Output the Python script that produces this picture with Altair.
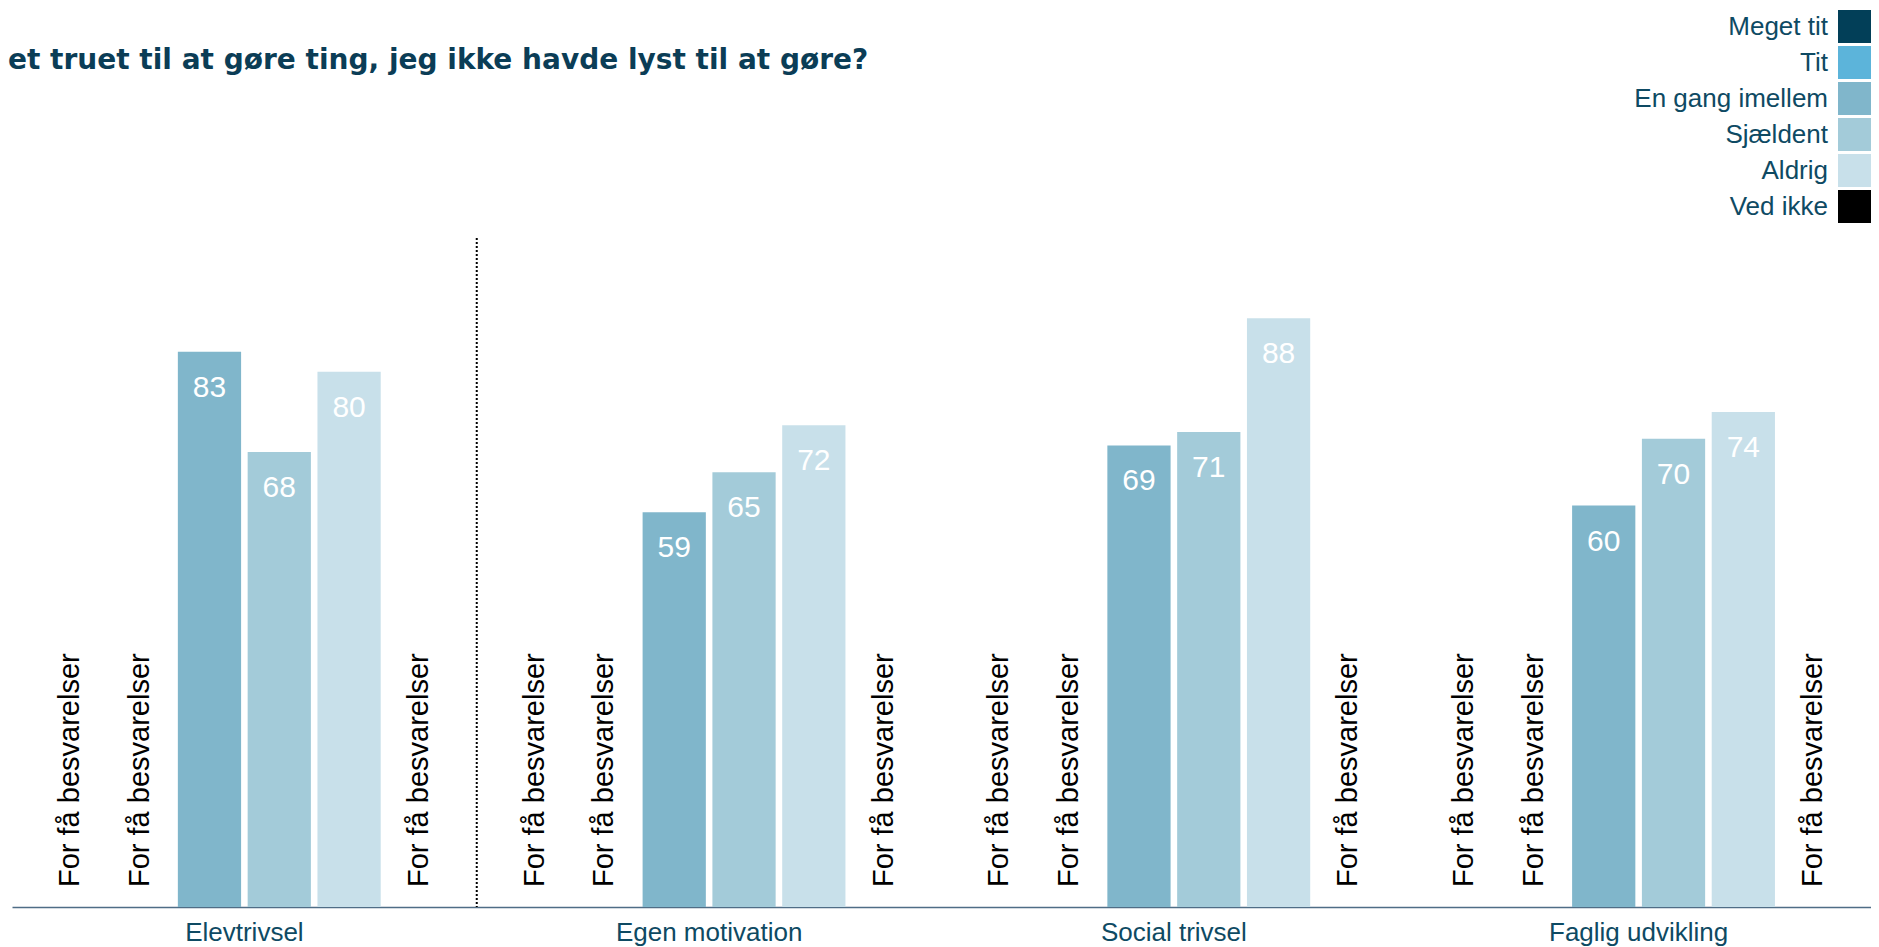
import altair as alt
import pandas as pd

# ---- data ----
groups = ["Elevtrivsel", "Egen motivation", "Social trivsel", "Faglig udvikling"]
categories = ["Meget tit", "Tit", "En gang imellem", "Sjældent", "Aldrig", "Ved ikke"]
colors = ["#023f58", "#5cb4da", "#80b6cb", "#a3cbd9", "#c8e0ea", "#000000"]

values_elevtrivsel = [None, None, 83, 68, 80, None]
values_egen_motivation = [None, None, 59, 65, 72, None]
values_social_trivsel = [None, None, 69, 71, 88, None]
values_faglig_udvikling = [None, None, 60, 70, 74, None]

separators = ["Egen motivation"]

too_few_text = "For få besvarelser"
title_text = "et truet til at gøre ting, jeg ikke havde lyst til at gøre?"

series = [values_elevtrivsel, values_egen_motivation, values_social_trivsel, values_faglig_udvikling]
rows = []
for g, vals in zip(groups, series):
    for c, v in zip(categories, vals):
        rows.append({"group": g, "cat": c, "value": v, "note": too_few_text if v is None else ""})
df = pd.DataFrame(rows)
sep_df = pd.DataFrame({"group": separators})

TEXT = "#0e4a63"
FONT = "Liberation Sans"

x_enc = alt.X(
    "group:N",
    sort=groups,
    scale=alt.Scale(domain=groups, paddingInner=0, paddingOuter=0),
    axis=alt.Axis(
        title=None, labelAngle=0, ticks=False, tickSize=0, labelFontSize=26,
        labelColor=TEXT, labelFont=FONT, labelPadding=33, labelBaseline="alphabetic",
        labelLimit=500, domainColor="#4f6d86", domainWidth=1.5, grid=False,
    ),
)
xoff_enc = alt.XOffset(
    "cat:N", sort=categories,
    scale=alt.Scale(domain=categories, paddingInner=0.094, paddingOuter=0.376),
)
y_scale = alt.Scale(domain=[0, 100], nice=False, zero=True)

base = alt.Chart(df)

bars = base.transform_filter("datum.value != null").mark_bar().encode(
    x=x_enc,
    xOffset=xoff_enc,
    y=alt.Y("value:Q", scale=y_scale, axis=None),
    color=alt.Color(
        "cat:N",
        scale=alt.Scale(domain=categories, range=colors),
        legend=alt.Legend(
            title=None, orient="none", legendX=1826, legendY=-228,
            symbolType="square", symbolSize=1089, symbolStrokeWidth=0, symbolOpacity=1,
            labelAlign="right", labelOffset={"expr": "-43"}, labelFontSize=26, labelColor=TEXT,
            labelFont=FONT, rowPadding=3, padding=0, labelLimit=400,
        ),
    ),
)

labels = base.transform_filter("datum.value != null").mark_text(
    baseline="alphabetic", dy=45, fontSize=30, color="white", font=FONT,
).encode(
    x=x_enc,
    xOffset=xoff_enc,
    y=alt.Y("value:Q", scale=y_scale, axis=None),
    text=alt.Text("value:Q", format="d"),
)

notes = base.transform_filter("datum.value == null").mark_text(
    angle=270, align="left", baseline="middle", dx=20, fontSize=29, color="black", font=FONT,
).encode(
    x=x_enc,
    xOffset=xoff_enc,
    y=alt.datum(0, scale=y_scale),
    text="note:N",
)

sep = alt.Chart(sep_df).mark_rule(color="black", strokeWidth=2, strokeDash=[2, 2]).encode(
    x=alt.X("group:N", bandPosition=0, scale=alt.Scale(domain=groups, paddingInner=0, paddingOuter=0)),
    y=alt.datum(100, scale=y_scale),
    y2=alt.datum(0),
)

chart = alt.layer(bars, labels, notes, sep).properties(
    width=1859,
    height=669,
    padding={"left": 4, "top": 230, "right": 0, "bottom": 40},
    autosize=alt.AutoSizeParams(type="none"),
    title=alt.TitleParams(
        text=title_text, anchor="start", frame="group", fontSize=28, font="DejaVu Sans",
        fontWeight="bold", color="#0b3d56", offset=0, baseline="alphabetic", dx=-4, dy=87,
    ),
).configure(font=FONT).configure_view(strokeWidth=0, stroke="transparent")

chart.save("out.html", embed_options={"renderer": "svg", "actions": False})
